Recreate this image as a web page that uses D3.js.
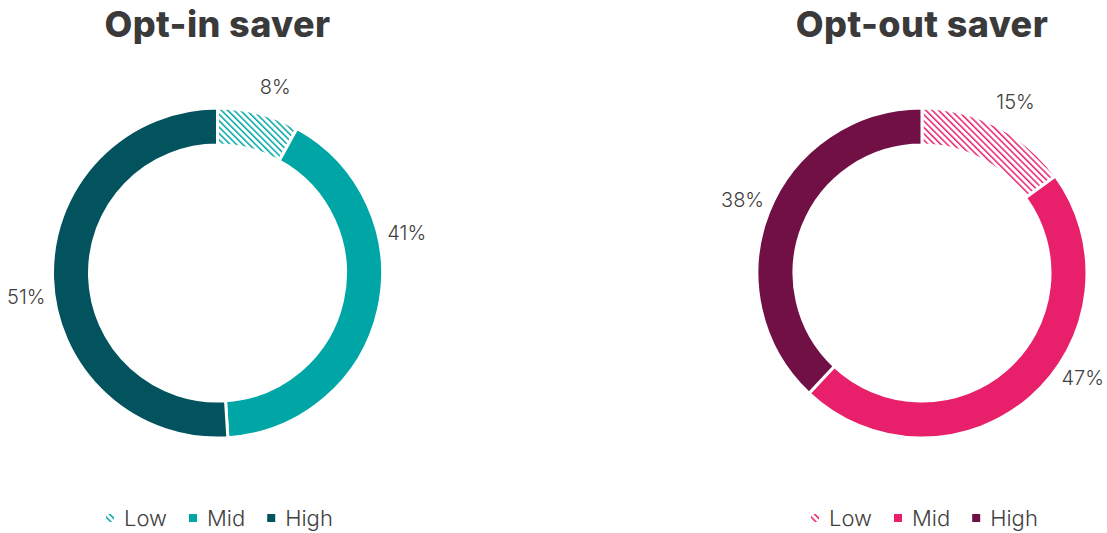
<!DOCTYPE html>
<html>
<head>
<meta charset="utf-8">
<script src="https://cdn.jsdelivr.net/npm/d3@7/dist/d3.min.js"></script>
<style>
  html, body { margin: 0; padding: 0; background: #fff; }
  svg { display: block; }
</style>
</head>
<body>
<svg id="chart" width="1107" height="533"></svg>
<script>
// Saver categories and shares (%)
const categories = ["Low", "Mid", "High"];
const optInValues = [8, 41, 51];
const optOutValues = [15, 47, 38];
const titles = ["Opt-in saver", "Opt-out saver"];

const palettes = [
  ["#00A6A6", "#00A6A6", "#03535E"],
  ["#E8206B", "#E8206B", "#701045"]
];

// Per-slice angular nudges for the outside labels (degrees)
const labelNudge = [
  [3, -24, -6],
  [2, -15, 0]
];

const svg = d3.select("#chart");
const defs = svg.append("defs");

const textColor = "#404040";
const font = "Inter, 'Open Sans', sans-serif";
const outerR = 165, innerR = 128, labelR = 193;
const centers = [[217.5, 273], [922, 273]];
const legendX = [106, 811];

palettes.forEach((pal, i) => {
  const p = defs.append("pattern")
    .attr("id", "hatch" + i)
    .attr("patternUnits", "userSpaceOnUse")
    .attr("width", 4.5).attr("height", 4.5)
    .attr("patternTransform", "rotate(-45)");
  p.append("rect").attr("width", 4.5).attr("height", 4.5).attr("fill", "#fff");
  p.append("rect").attr("x", 0).attr("y", 0).attr("width", 1.5).attr("height", 4.5)
    .attr("fill", pal[0]);
});

const pie = d3.pie().sort(null).value(d => d);
const arc = d3.arc().innerRadius(innerR).outerRadius(outerR);

[optInValues, optOutValues].forEach((vals, i) => {
  const [cx, cy] = centers[i];
  const g = svg.append("g").attr("transform", `translate(${cx},${cy})`);
  const arcs = pie(vals);

  g.selectAll("path.slice").data(arcs).join("path")
    .attr("class", "slice")
    .attr("d", arc)
    .attr("fill", (d, j) => j === 0 ? `url(#hatch${i})` : palettes[i][j])
    .attr("stroke", "#fff")
    .attr("stroke-width", 3);

  const ang = (d, j) => (d.startAngle + d.endAngle) / 2 + labelNudge[i][j] * Math.PI / 180;

  g.selectAll("text.lbl").data(arcs).join("text")
    .attr("class", "lbl")
    .attr("x", (d, j) => labelR * Math.sin(ang(d, j)))
    .attr("y", (d, j) => -labelR * Math.cos(ang(d, j)) - 2)
    .attr("text-anchor", "middle")
    .attr("dominant-baseline", "central")
    .attr("font-family", font)
    .attr("font-weight", 300)
    .attr("font-size", 20)
    .attr("fill", textColor)
    .text(d => d.data + "%");

  svg.append("text")
    .attr("x", cx).attr("y", 37)
    .attr("text-anchor", "middle")
    .attr("font-family", font)
    .attr("font-weight", 800)
    .attr("font-size", 36)
    .attr("letter-spacing", 0.4)
    .attr("fill", "#3a3a3a")
    .text(titles[i]);

  // Legend
  const lg = svg.append("g").attr("transform", `translate(${legendX[i]},518)`);
  let x = 0;
  categories.forEach((c, j) => {
    lg.append("rect")
      .attr("x", x).attr("y", -4).attr("width", 8).attr("height", 8)
      .attr("fill", j === 0 ? `url(#hatch${i})` : palettes[i][j]);
    const t = lg.append("text")
      .attr("x", x + 18).attr("y", 0)
      .attr("dominant-baseline", "central")
      .attr("font-family", font)
      .attr("font-weight", 300)
      .attr("font-size", 22)
      .attr("fill", textColor)
      .text(c);
    x += 18 + t.node().getComputedTextLength() + 22;
  });
});
</script>
</body>
</html>
